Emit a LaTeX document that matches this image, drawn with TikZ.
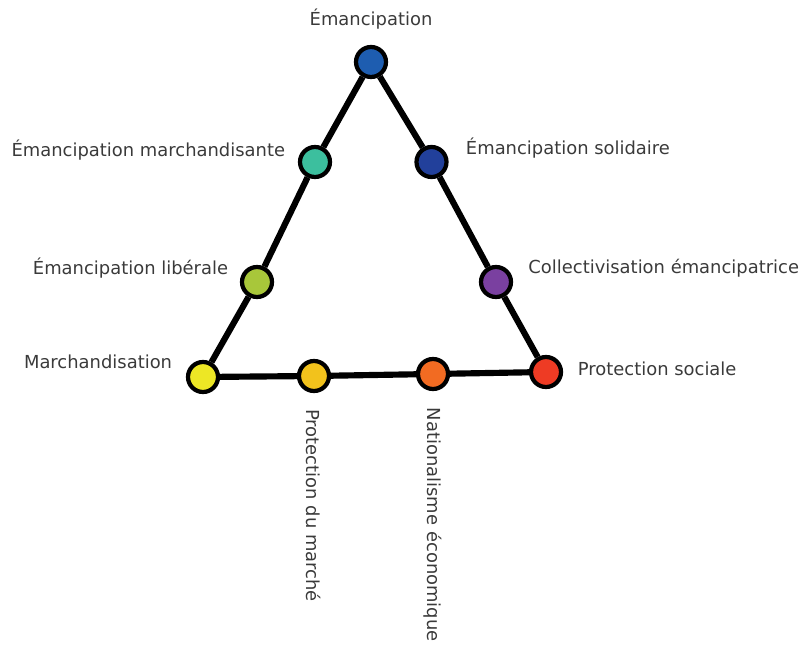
\documentclass[tikz,border=0pt]{standalone}
\usepackage{fontspec}
\setmainfont{DejaVu Sans}
\usetikzlibrary{positioning,backgrounds}

\definecolor{cEman}{HTML}{1E5DB0}
\definecolor{cSolid}{HTML}{22409B}
\definecolor{cMarchEm}{HTML}{3CBF9E}
\definecolor{cLiber}{HTML}{A8C73A}
\definecolor{cCollect}{HTML}{7A40A0}
\definecolor{cMarch}{HTML}{EDE725}
\definecolor{cProtM}{HTML}{F2C21C}
\definecolor{cNation}{HTML}{F26B22}
\definecolor{cProtS}{HTML}{EE3B24}
\definecolor{labelgray}{HTML}{3A3A3A}

\tikzset{
  pole/.style={circle, draw=black, line width=2.4pt, minimum size=0.6cm, inner sep=0pt},
  edge/.style={line width=3.5pt, black},
  lbl/.style={inner sep=0pt, text=labelgray, font=\fontsize{10.2}{12.5}\selectfont},
  vlbl/.style={lbl, rotate=-90}
}

\begin{document}
\begin{tikzpicture}
    \useasboundingbox (0,0) rectangle (16.02,12.9);
    % Poles of the triangle
    \node[pole, fill=cEman]    (eman)   at (7.42, 11.66) {};
    \node[pole, fill=cMarchEm] (marchem) at (6.30, 9.66) {};
    \node[pole, fill=cSolid]   (solid)  at (8.63, 9.66) {};
    \node[pole, fill=cLiber]   (liber)  at (5.14, 7.26) {};
    \node[pole, fill=cCollect] (collect) at (9.92, 7.26) {};
    \node[pole, fill=cMarch]   (march)  at (4.06, 5.36) {};
    \node[pole, fill=cProtM]   (protm)  at (6.28, 5.38) {};
    \node[pole, fill=cNation]  (nation) at (8.66, 5.42) {};
    \node[pole, fill=cProtS]   (prots)  at (10.92, 5.46) {};
    % Sides of the triangle, behind the poles
    \begin{scope}[on background layer]
        \foreach \a/\b in {eman/marchem, marchem/liber, liber/march, march/protm,
                           protm/nation, nation/prots, prots/collect, collect/solid, solid/eman} {
            \draw[edge] (\a) -- (\b);
        }
    \end{scope}
    % Labels
    \node[lbl, above=0.3cm of eman] (l-eman) {Émancipation};
    \node[lbl, left=0.25cm of marchem, yshift=0.24cm] (l-marchem) {Émancipation marchandisante};
    \node[lbl, right=0.34cm of solid, yshift=0.28cm] (l-solid) {Émancipation solidaire};
    \node[lbl, left=0.23cm of liber, yshift=0.28cm] (l-liber) {Émancipation libérale};
    \node[lbl, right=0.3cm of collect, yshift=0.28cm] (l-collect) {Collectivisation émancipatrice};
    \node[lbl, left=0.27cm of march, yshift=0.3cm] (l-march) {Marchandisation};
    \node[lbl, right=0.29cm of prots, yshift=0.06cm] (l-prots) {Protection sociale};
    % Vertical labels under the base
    \node[vlbl, below=0.32cm of protm, anchor=west] (l-protm) {Protection du marché};
    \node[vlbl, below=0.33cm of nation, anchor=west] (l-nation) {Nationalisme économique};
\end{tikzpicture}
\end{document}
